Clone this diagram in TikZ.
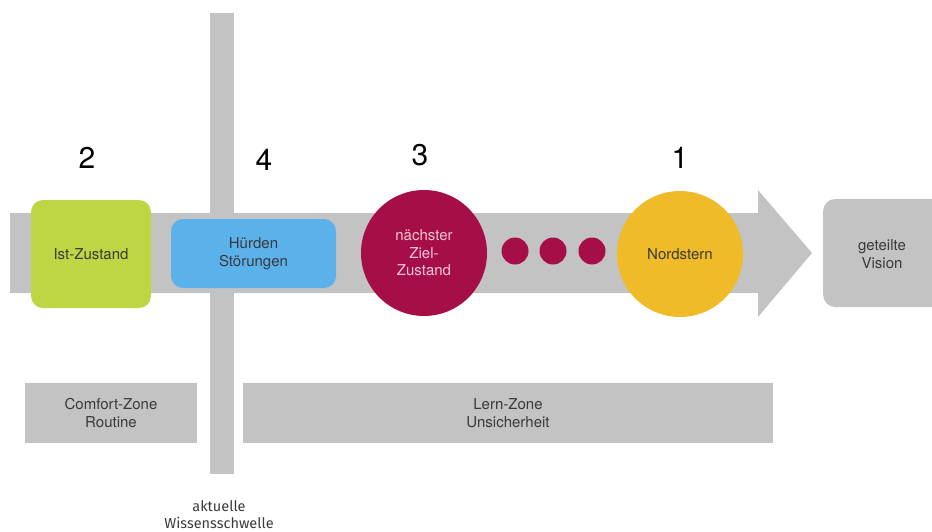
\documentclass[tikz,border=0pt]{standalone}
\usepackage{fontspec}
\setmainfont{TeX Gyre Heros}
\newfontfamily\labelfont{Fira Sans}
\definecolor{bandgray}{HTML}{C3C3C3}
\definecolor{limeg}{HTML}{BED643}
\definecolor{skyb}{HTML}{5BB1EA}
\definecolor{berry}{HTML}{A50E47}
\definecolor{goldy}{HTML}{F0BB29}
\definecolor{txtdark}{HTML}{3A3A3A}
\definecolor{txtpink}{HTML}{F2C8D6}
\begin{document}
\begin{tikzpicture}[x=1pt,y=-1pt,
  every node/.style={font=\fontsize{15}{17.5}\selectfont, align=center, text=txtdark, inner sep=0pt},
  rbox/.style={rectangle, rounded corners=12pt, minimum width=#1},
  zonebox/.style={rectangle, fill=bandgray},
  bigcircle/.style={circle, minimum size=126pt},
  dot/.style={circle, fill=berry, minimum size=27pt},
  numlabel/.style={font=\fontsize{30}{30}\selectfont, text=black}]
\useasboundingbox (0,0) rectangle (932,532);
% band arrow
\fill[bandgray] (10,213) -- (758,213) -- (758,190) -- (812,253) -- (758,317) -- (758,293) -- (10,293) -- cycle;
% vertical threshold bar
\fill[bandgray] (210,13) rectangle (234,474);
% boxes
\node[rbox=120pt, minimum height=108pt, fill=limeg] (ist) at (91,254) {Ist-Zustand};
\node[rbox=165pt, minimum height=69pt, fill=skyb, text=txtdark] (hurd) at (253.5,253.5) {Hürden\\Störungen};
\node[bigcircle, fill=berry, text=txtpink] (ziel) at (424,253) {nächster\\Ziel-\\Zustand};
\node[dot] (d1) at (515,251) {};
\node[dot] (d2) at (553,251) {};
\node[dot] (d3) at (592,251) {};
\node[bigcircle, fill=goldy] (nord) at (680,254) {Nordstern};
\begin{scope}
\clip (0,0) rectangle (932,532);
\node[rbox=130pt, minimum height=108pt, fill=bandgray, anchor=west] (vision) at (823,253) {};
\end{scope}
\node (visiontxt) at (882,254) {geteilte\\Vision};
% numbers
\node[numlabel] (n2) at (87,158) {2};
\node[numlabel] (n4) at (264,160) {4};
\node[numlabel] (n3) at (420,155) {3};
\node[numlabel] (n1) at (680,158) {1};
% zones
\node[zonebox, minimum width=172pt, minimum height=60pt] (comfort) at (111,413) {Comfort-Zone\\Routine};
\node[zonebox, minimum width=530pt, minimum height=60pt] (lern) at (508,413) {Lern-Zone\\Unsicherheit};
% threshold label
\node[font=\labelfont\fontsize{14.5}{17}\selectfont, text=txtdark] (schwelle) at (219,515) {aktuelle\\Wissensschwelle};
\end{tikzpicture}
\end{document}
